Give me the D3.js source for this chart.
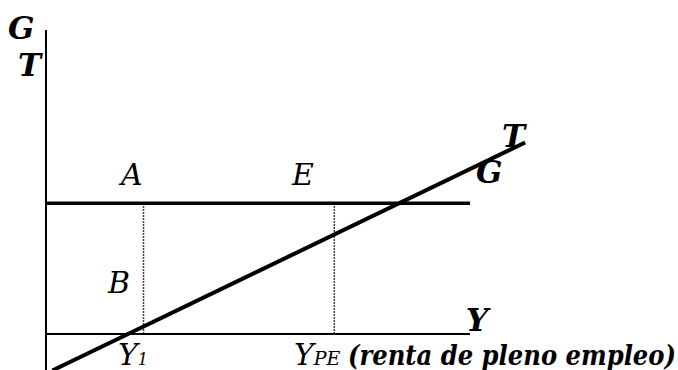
<!DOCTYPE html>
<html>
<head>
<meta charset="utf-8">
<script src="https://cdn.jsdelivr.net/npm/d3@7"></script>
<style>
  html, body { margin: 0; padding: 0; background: #fff; }
</style>
</head>
<body>
<div id="chart"></div>
<script>
// Model values in chart units (Y on x axis, G/T on vertical axis)
const yAxisExtent = [0, 100]; // horizontal axis Y
const gtAxisExtent = [-12, 100]; // vertical axis G, T
const gLevel = 43; // government spending, flat
const tPoints = [
  { y: 1.5, t: -12 },
  { y: 113, t: 63 },
];
const guideYs = [
  { name: 'Y1', y: 23 },
  { name: 'YPE', y: 68 },
];

const size = { width: 678, height: 370 };
const font = 'DejaVu Serif';

const svg = d3
  .select('#chart')
  .append('svg')
  .attr('width', size.width)
  .attr('height', size.height);

/*
   Scales
 */
const x = d3.scaleLinear().domain([0, 100]).range([46, 470]);
const y = d3.scaleLinear().domain([0, 100]).range([334, 30]);

// Axes (drawn as plain lines, no ticks)
svg
  .append('line')
  .attr('x1', x(0))
  .attr('x2', x(0))
  .attr('y1', y(gtAxisExtent[0]))
  .attr('y2', y(gtAxisExtent[1]))
  .attr('stroke', '#000')
  .attr('stroke-width', 2);

svg
  .append('line')
  .attr('x1', x(yAxisExtent[0]))
  .attr('x2', x(yAxisExtent[1]))
  .attr('y1', y(0))
  .attr('y2', y(0))
  .attr('stroke', '#000')
  .attr('stroke-width', 2);

// Dotted guides from G down to the Y axis
svg
  .append('g')
  .selectAll('line')
  .data(guideYs)
  .enter()
  .append('line')
  .attr('x1', (d) => x(d.y))
  .attr('x2', (d) => x(d.y))
  .attr('y1', y(gLevel))
  .attr('y2', y(0))
  .attr('stroke', '#000')
  .attr('stroke-width', 1.5)
  .attr('stroke-dasharray', '1.5,1.5');

// G line
svg
  .append('line')
  .attr('x1', x(yAxisExtent[0]))
  .attr('x2', x(yAxisExtent[1]))
  .attr('y1', y(gLevel))
  .attr('y2', y(gLevel))
  .attr('stroke', '#000')
  .attr('stroke-width', 3.5);

// T line
const tLine = d3
  .line()
  .x((d) => x(d.y))
  .y((d) => y(d.t));

svg
  .append('path')
  .datum(tPoints)
  .attr('d', tLine)
  .attr('stroke', '#000')
  .attr('stroke-width', 4)
  .attr('fill', 'none');

/*
   Labels
 */
const label = (txt, lx, ly, opts = {}) =>
  svg
    .append('text')
    .text(txt)
    .attr('x', lx)
    .attr('y', ly)
    .attr('font-family', font)
    .attr('font-style', 'italic')
    .attr('font-size', opts.size || 30)
    .attr('font-weight', opts.bold ? 'bold' : 'normal');

label('G', 8, 39, { bold: true, size: 31 });
label('T', 18, 76, { bold: true, size: 31 });
label('A', 121, 185);
label('E', 292, 185);
label('B', 108, 293);
label('T', 502, 147, { bold: true, size: 31 });
label('G', 476, 183, { bold: true, size: 31 });
label('Y', 466, 331, { bold: true, size: 31 });

// Y1
const y1 = label('', 118, 365);
y1.append('tspan').text('Y');
y1.append('tspan').text('1').attr('font-size', 16);

// YPE (renta de pleno empleo)
const ype = label('', 294, 365);
ype.append('tspan').text('Y');
ype.append('tspan').text('PE').attr('font-size', 19);
ype
  .append('tspan')
  .text('(renta de pleno empleo)')
  .attr('x', 348)
  .attr('font-weight', 'bold')
  .attr('font-size', 27)
  .attr('textLength', 328)
  .attr('lengthAdjust', 'spacingAndGlyphs');
</script>
</body>
</html>
